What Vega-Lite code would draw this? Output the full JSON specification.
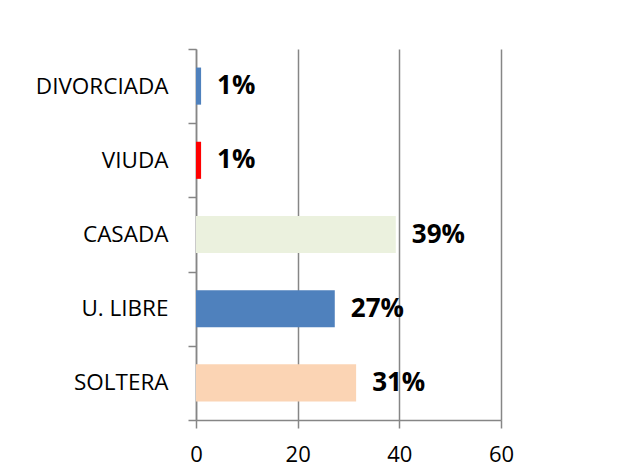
{
  "$schema": "https://vega.github.io/schema/vega-lite/v6.json",
  "autosize": {"type": "none"},
  "width": 305,
  "height": 371,
  "padding": {"left": 196, "top": 49, "right": 132, "bottom": 47},
  "background": "white",
  "config": {
    "view": {"stroke": null},
    "font": "Open Sans"
  },
  "data": {
    "values": [
      {"estado": "DIVORCIADA", "valor": 1, "etiqueta": "1%"},
      {"estado": "VIUDA", "valor": 1, "etiqueta": "1%"},
      {"estado": "CASADA", "valor": 39.3, "etiqueta": "39%"},
      {"estado": "U. LIBRE", "valor": 27.3, "etiqueta": "27%"},
      {"estado": "SOLTERA", "valor": 31.5, "etiqueta": "31%"}
    ]
  },
  "encoding": {
    "y": {
      "field": "estado",
      "type": "nominal",
      "sort": null,
      "scale": {"paddingInner": 0, "paddingOuter": 0},
      "axis": {
        "title": null,
        "domainColor": "#868686",
        "domainWidth": 1.5,
        "tickColor": "#868686",
        "tickWidth": 1.5,
        "tickSize": 8,
        "tickBand": "extent",
        "labelFont": "Open Sans",
        "labelFontSize": 22.5,
        "labelColor": "#000000",
        "labelPadding": 20,
        "labelAlign": "right"
      }
    }
  },
  "layer": [
    {
      "mark": {"type": "bar", "height": {"band": 0.5}},
      "encoding": {
        "x": {
          "field": "valor",
          "type": "quantitative",
          "scale": {"domain": [0, 60], "nice": false},
          "axis": {
            "title": null,
            "values": [0, 20, 40, 60],
            "grid": true,
            "gridColor": "#868686",
            "gridWidth": 1.5,
            "domainColor": "#868686",
            "domainWidth": 1.5,
            "tickColor": "#868686",
            "tickWidth": 1.5,
            "tickSize": 8,
            "labelFlush": false,
            "labelFont": "Open Sans",
            "labelFontSize": 22,
            "labelColor": "#000000",
            "labelPadding": 16
          }
        },
        "color": {
          "field": "estado",
          "type": "nominal",
          "scale": {
            "domain": ["DIVORCIADA", "VIUDA", "CASADA", "U. LIBRE", "SOLTERA"],
            "range": ["#4F81BD", "#FF0000", "#EBF1DE", "#4F81BD", "#FBD4B4"]
          },
          "legend": null
        }
      }
    },
    {
      "mark": {
        "type": "text",
        "align": "left",
        "baseline": "middle",
        "dx": 16,
        "fontWeight": "bold",
        "fontSize": 26,
        "font": "Open Sans",
        "color": "#000000"
      },
      "encoding": {
        "x": {"field": "valor", "type": "quantitative"},
        "text": {"field": "etiqueta"}
      }
    }
  ]
}
